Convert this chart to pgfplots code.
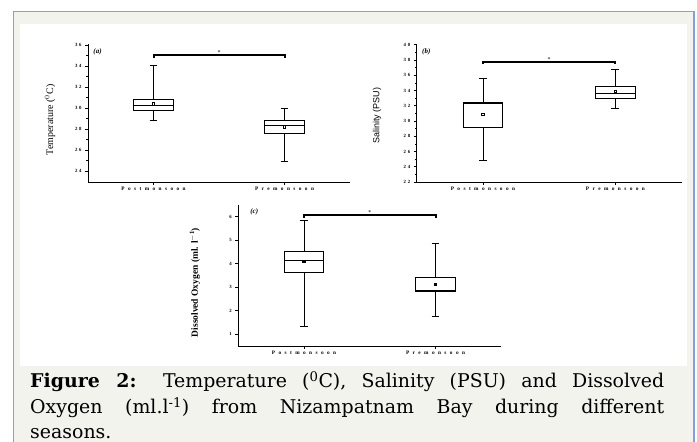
\documentclass[border=0pt]{standalone}
\usepackage{pgfplots}
\pgfplotsset{compat=1.18}
\usepgfplotslibrary{statistics}
\usepackage{fontspec}
\setmainfont{Liberation Serif}
\newfontfamily\capfont{DejaVu Serif}
\newfontfamily\xtickfont[LetterSpace=65]{Liberation Serif}
\newfontfamily\ytickfont[LetterSpace=35]{Liberation Serif}
\newfontfamily\sansf{Liberation Sans}
\definecolor{bordercol}{HTML}{7FA3D9}
\definecolor{bggray}{HTML}{F3F3EE}
\pgfplotsset{
  bx/.style={
    scale only axis,
    axis lines*=left,
    axis line style={black, line width=0.8bp},
    tick align=outside,
    xmin=0.5, xmax=2.5,
    xtick={1,2},
    xticklabels={Postmonsoon, Premonsoon},
    x tick label style={font=\xtickfont\bfseries\fontsize{5.3}{6}\selectfont, yshift=1bp},
    y tick label style={font=\ytickfont\bfseries\fontsize{4.8}{5}\selectfont},
    /pgf/number format/assume math mode=true,
    major tick length=3bp, minor tick length=1.8bp,
    tick style={black, line width=0.6bp},
    boxplot/draw direction=y,
    boxplot/box extend=0.3,
    boxplot/whisker extend=0.06,
    boxplot/every average/.style={/tikz/mark=square, /tikz/mark size=1.2bp, /tikz/mark options={fill=white, solid}},
  },
  bp/.style={black, line width=0.9bp, solid},
  brk/.style={black, line width=2bp, mark=none},
}
\begin{document}
\begin{tikzpicture}
\useasboundingbox (0bp,0bp) rectangle (697bp,442bp);
\begin{scope}
\clip (0bp,0bp) rectangle (697bp,442bp);
\fill[white] (0bp,0bp) rectangle (697bp,442bp);
\draw[bordercol, line width=1.5bp, fill=bggray] (13.5bp,430.5bp) rectangle (694bp,-10bp);
\fill[white] (20bp,418bp) rectangle (687bp,76bp);
\end{scope}

% (a) Temperature
\begin{axis}[bx, at={(88bp,260bp)}, anchor=south west, width=262bp, height=138bp,
  ymin=22.95, ymax=36.1, ytick={24,26,...,36}, minor y tick num=1,
  ylabel={Temperature ($^{0}$C)},
  ylabel style={at={(axis description cs:-0.145,0.45)}, anchor=center, font=\fontsize{10}{12}\selectfont}]
\addplot+[bp, boxplot prepared={draw position=1, lower whisker=28.86, lower quartile=29.8, median=30.26, upper quartile=30.83, upper whisker=34.1, average=30.38}] coordinates {};
\addplot+[bp, boxplot prepared={draw position=2, lower whisker=24.95, lower quartile=27.6, median=28.35, upper quartile=28.8, upper whisker=29.97, average=28.2}] coordinates {};
\addplot[brk] coordinates {(1,34.75) (1,35.05) (2,35.05) (2,34.75)};
\node[font=\fontsize{6}{6}\selectfont, anchor=south, inner sep=0.5bp] at (axis cs:1.5,35.05) {*};
\node[font=\bfseries\itshape\fontsize{7}{8}\selectfont, anchor=west, inner sep=0] at (rel axis cs:0.02,0.94) {(a)};
\end{axis}

% (b) Salinity
\begin{axis}[bx, at={(416.7bp,260bp)}, anchor=south west, width=265bp, height=138bp,
  ymin=22, ymax=40.1, ytick={22,24,...,40}, minor y tick num=1,
  ylabel={\sansf Salinity (PSU)},
  ylabel style={at={(axis description cs:-0.15,0.48)}, anchor=center, font=\fontsize{9}{11}\selectfont}]
\addplot+[bp, boxplot prepared={draw position=1, lower whisker=24.84, lower quartile=29.19, median=32.25, upper quartile=32.46, upper whisker=35.6, average=30.85}] coordinates {};
\addplot+[bp, boxplot prepared={draw position=2, lower whisker=31.6, lower quartile=32.94, median=33.64, upper quartile=34.55, upper whisker=36.73, average=33.86}] coordinates {};
\addplot[brk] coordinates {(1,37.44) (1,37.74) (2,37.74) (2,37.44)};
\node[font=\fontsize{6}{6}\selectfont, anchor=south, inner sep=0.5bp] at (axis cs:1.5,37.74) {*};
\node[font=\bfseries\itshape\fontsize{7}{8}\selectfont, anchor=west, inner sep=0] at (rel axis cs:0.02,0.94) {(b)};
\end{axis}

% (c) Dissolved oxygen
\begin{axis}[bx, at={(238.3bp,96bp)}, anchor=south west, width=263bp, height=141bp,
  ymin=0.5, ymax=6.5, ytick={1,...,6}, minor y tick num=0,
  boxplot/every average/.style={/tikz/mark=square*, /tikz/mark size=1.2bp, /tikz/mark options={fill=black, solid}},
  ylabel={\textbf{Dissolved Oxygen (ml. l$^{\mathbf{-1}}$)}},
  ylabel style={at={(axis description cs:-0.165,0.45)}, anchor=center, font=\fontsize{9.5}{11}\selectfont}]
\addplot+[bp, boxplot prepared={draw position=1, lower whisker=1.35, lower quartile=3.65, median=4.15, upper quartile=4.53, upper whisker=5.85, average=4.1}] coordinates {};
\addplot+[bp, boxplot prepared={draw position=2, lower whisker=1.75, lower quartile=2.82, median=2.85, upper quartile=3.42, upper whisker=4.85, average=3.11}] coordinates {};
\addplot[brk] coordinates {(1,5.95) (1,6.07) (2,6.07) (2,5.95)};
\node[font=\fontsize{6}{6}\selectfont, anchor=south, inner sep=0.5bp] at (axis cs:1.5,6.07) {*};
\node[font=\bfseries\itshape\fontsize{7}{8}\selectfont, anchor=west, inner sep=0] at (rel axis cs:0.045,0.95) {(c)};
\end{axis}

\node[anchor=north west, inner sep=0, text width=634bp, align=justify,
  font=\capfont\fontsize{19}{25.7}\selectfont] at (30bp,70.5bp)
  {\textbf{Figure 2:} Temperature (\textsuperscript{0}C), Salinity (PSU) and Dissolved\linebreak
   Oxygen (ml.l\textsuperscript{-1}) from Nizampatnam Bay during different\linebreak seasons.};
\end{tikzpicture}
\end{document}
